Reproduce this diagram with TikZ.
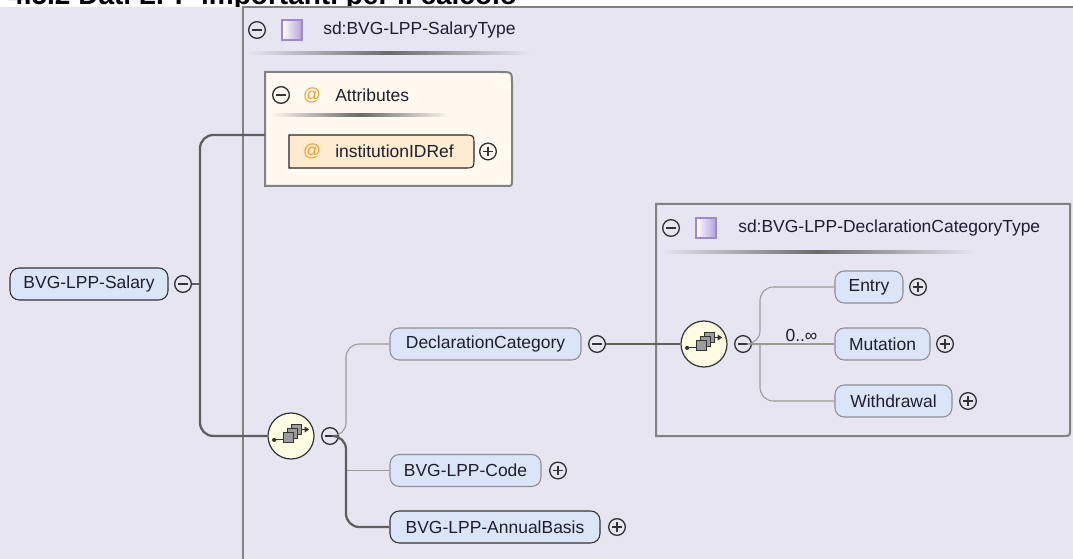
\documentclass[tikz,border=0pt]{standalone}
\usepackage{fontspec}
\setmainfont{Liberation Sans}
\usetikzlibrary{calc}
\definecolor{bg}{HTML}{E8E5F3}
\definecolor{elemfill}{HTML}{DAE6F7}
\definecolor{attrbg}{HTML}{FFF9EF}
\definecolor{attritem}{HTML}{FFEBD0}
\definecolor{seqfill}{HTML}{FFFDE1}
\definecolor{boxgray}{HTML}{828282}
\definecolor{sym}{HTML}{333333}
\definecolor{txt}{HTML}{1E1E30}
\definecolor{thickgray}{HTML}{5E5E5E}
\definecolor{thingray}{HTML}{9A9A9A}
\definecolor{optborder}{HTML}{8E8E96}
\definecolor{purp}{HTML}{B3A1DB}
\definecolor{purpborder}{HTML}{9E89CC}
\definecolor{orange}{HTML}{F0A02C}
\definecolor{sqgray}{HTML}{9C9C9C}
\definecolor{ulgray}{HTML}{6A6A6A}
\tikzset{
  mc/.style={circle, draw=sym, line width=1pt, minimum size=12.5pt, inner sep=0pt,
    path picture={\draw[sym, line width=1pt] ([xshift=2.6pt]path picture bounding box.west) -- ([xshift=-2.6pt]path picture bounding box.east);}},
  pc/.style={circle, draw=sym, line width=1pt, minimum size=12.5pt, inner sep=0pt,
    path picture={\draw[sym, line width=1pt] ([xshift=2.6pt]path picture bounding box.west) -- ([xshift=-2.6pt]path picture bounding box.east);
                  \draw[sym, line width=1pt] ([yshift=-2.6pt]path picture bounding box.north) -- ([yshift=2.6pt]path picture bounding box.south);}},
  elem/.style={draw=optborder, fill=elemfill, rounded corners=7pt, line width=0.8pt, inner sep=0pt,
    minimum height=24pt, text=txt},
  req/.style={elem, draw=sym},
  w/.style={minimum width=#1*0.75pt},
  seqc/.style={circle, draw=sym, fill=seqfill, line width=0.9pt, minimum size=34.5pt, inner sep=0pt},
  thickc/.style={draw=thickgray, line width=1.7pt},
  thinc/.style={draw=thingray, line width=0.8pt},
  boxline/.style={draw=boxgray, line width=1.5pt},
  lbl/.style={anchor=west, inner sep=0pt, text=txt},
  atsym/.style={inner sep=0pt, text=orange},
  seqicon/.pic={
    \begin{scope}[scale=1.3]
    \draw[sym, line width=0.7pt] (-13,3) -- (-6,3);
    \fill[sym] (-13,3) circle[radius=1.6];
    \filldraw[fill=sqgray, draw=sym, line width=0.55pt] (0,-9) rectangle (8,-1);
    \filldraw[fill=sqgray, draw=sym, line width=0.55pt] (-3,-6) rectangle (5,2);
    \filldraw[fill=sqgray, draw=sym, line width=0.55pt] (-6,-3) rectangle (2,5);
    \draw[sym, line width=0.7pt] (8,-5) -- (11,-5);
    \fill[sym] (14,-5) -- (10.5,-7.3) -- (10.5,-2.7) -- cycle;
    \end{scope}
  }
}
\begin{document}
\begin{tikzpicture}[x=0.75pt, y=-0.75pt, font=\fontsize{13.1}{15}\selectfont]
\useasboundingbox (0,0) rectangle (1073,559);
\clip (0,0) rectangle (1073,559);
\fill[white] (0,0) rectangle (1073,7);
\node[anchor=base west, inner sep=0pt, font=\bfseries\fontsize{21}{21}\selectfont] (heading) at (8,4.5) {4.5.2 Dati LPP importanti per il calcolo};
\fill[bg] (0,7) rectangle (1073,559);

% outer type box
\draw[boxline] (243,580) -- (243,7) -- (1090,7);
\node[mc] (m0) at (257,30) {};
\shade[left color=white, right color=purp] (282,20) rectangle (302,40);
\draw[purpborder, line width=0.8pt] (282,20) rectangle (302,40);
\node[lbl] (t0) at (323,30) {sd:BVG-LPP-SalaryType};
\shade[left color=bg, right color=bg, middle color=ulgray] (248,52) rectangle (530,55);

% attributes box
\filldraw[fill=attrbg, boxline] (265,186) -- (265,72) -- (500,72) .. controls (512,72) .. (512,84) -- (512,180) .. controls (512,186) .. (506,186) -- cycle;
\node[minimum width=247*0.75pt, minimum height=114*0.75pt, inner sep=0pt] (attrbox) at (388.5,129) {};
\node[mc] (m3) at (281,95) {};
\node[atsym] (at1) at (312,95) {@};
\node[lbl] (attrs) at (335,95) {Attributes};
\shade[left color=attrbg, right color=attrbg, middle color=ulgray] (270,114) rectangle (450,117);
\filldraw[fill=attritem, draw=black!85, line width=0.8pt] (289,168) -- (289,135) -- (464,135) .. controls (474,135) .. (474,145) -- (474,158) .. controls (474,168) .. (464,168) -- cycle;
\node[atsym] (at2) at (312,151.5) {@};
\node[lbl] (ai) at (335,151.5) {institutionIDRef};
\node[pc] (pai) at (488,151.5) {};

% root element
\node[req, w=158] (salary) at (89,284) {BVG-LPP-Salary};
\node[mc] (ms) at (183,284) {};

% sequence 1
\node[seqc] (seq1) at (291,436) {};
\pic at (291,436) {seqicon};
\node[mc] (m1) at (330,436) {};

\node[elem, w=191] (decl) at (485.5,344) {DeclarationCategory};
\node[mc] (md) at (597,344) {};
\node[elem, w=151] (code) at (465.5,470.5) {BVG-LPP-Code};
\node[pc] (pcode) at (558,470.5) {};
\node[req, w=210] (annual) at (495,527) {BVG-LPP-AnnualBasis};
\node[pc] (pann) at (617,527) {};

% inner type box
\draw[boxline] (656,204) -- (1070,204) -- (1070,429) .. controls (1070,436) .. (1063,436) -- (656,436) -- cycle;
\node[minimum width=414*0.75pt, minimum height=232*0.75pt, inner sep=0pt] (dtype) at (863,320) {};
\node[mc] (m4) at (671,228) {};
\shade[left color=white, right color=purp] (696,218) rectangle (716,238);
\draw[purpborder, line width=0.8pt] (696,218) rectangle (716,238);
\node[lbl] (t1) at (738,228) {sd:BVG-LPP-DeclarationCategoryType};
\shade[left color=bg, right color=bg, middle color=ulgray] (660,251) rectangle (975,254);

\node[seqc] (seq2) at (704,344) {};
\pic at (704,344) {seqicon};
\node[mc] (m2) at (743,344) {};

\node[elem, w=68] (entry) at (869,287) {Entry};
\node[pc] (pentry) at (918,287) {};
\node[elem, w=95] (mutation) at (882.5,344) {Mutation};
\node[pc] (pmut) at (945,344) {};
\node[elem, w=117] (withdrawal) at (893.5,401) {Withdrawal};
\node[pc] (pwd) at (968,401) {};

% connectors
\draw[thickc] (ms.east) -- (200,284);
\draw[thickc, rounded corners=10pt] ($(attrbox.west)+(0,6)$) -- (200,135) -- (200,436) -- (seq1.west);
\draw[thinc, rounded corners=10pt] (m1.east) -- (346,436) -- (346,344) -- (decl.west);
\draw[thinc] (346,470.5) -- (code.west);
\draw[thickc, rounded corners=10pt] (m1.east) -- (346,436) -- (346,527) -- (annual.west);
\draw[thickc] (md.east) -- (seq2.west);
\draw[thinc, rounded corners=10pt] (m2.east) -- (760,344) -- (760,287) -- (entry.west);
\draw[thinc] (m2.east) -- (mutation.west) node[pos=0.6, above=1pt, inner sep=0pt, text=txt] (occ) {0..∞};
\draw[thinc, rounded corners=10pt] (760,344) -- (760,401) -- (withdrawal.west);
\end{tikzpicture}
\end{document}
